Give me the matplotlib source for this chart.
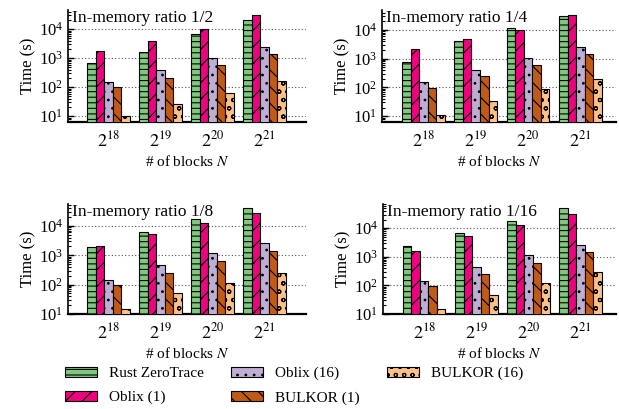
import matplotlib
matplotlib.use("Agg")
import matplotlib.pyplot as plt
import numpy as np
from matplotlib.patches import Patch
from matplotlib.ticker import LogLocator, NullFormatter

plt.rcParams['font.family'] = ['Liberation Serif', 'DejaVu Serif']
plt.rcParams['mathtext.fontset'] = 'stix'
plt.rcParams['hatch.linewidth'] = 0.8

groups = [r'$2^{18}$', r'$2^{19}$', r'$2^{20}$', r'$2^{21}$']
series = ['Rust ZeroTrace', 'Oblix (1)', 'Oblix (16)', 'BULKOR (1)', 'BULKOR (16)']
colors = ['#7fc97f', '#f0027f', '#beaed4', '#bf5b17', '#fdc086']
hatches = ['---', '//', '..', '\\\\', 'oo']

titles = ['In-memory ratio 1/2', 'In-memory ratio 1/4', 'In-memory ratio 1/8', 'In-memory ratio 1/16']

# values[panel][series][group]
ratio_1_2 = [
    [670, 1660, 6700, 20000],
    [1830, 4070, 10000, 31000],
    [157, 400, 1050, 2460],
    [98, 215, 575, 1380],
    [10, 26, 62, 160],
]
ratio_1_4 = [
    [750, 4000, 11500, 31000],
    [2150, 4900, 10000, 33000],
    [150, 410, 1030, 2500],
    [97, 240, 600, 1450],
    [10.5, 35, 85, 200],
]
ratio_1_8 = [
    [1860, 6000, 17000, 40000],
    [2120, 5200, 12500, 27000],
    [148, 460, 1170, 2650],
    [100, 250, 640, 1400],
    [14.4, 52, 111, 257],
]
ratio_1_16 = [
    [2300, 7000, 18500, 49000],
    [1550, 5200, 12700, 31500],
    [138, 425, 1200, 2550],
    [98, 250, 630, 1450],
    [14.5, 46, 120, 300],
]
panels = [ratio_1_2, ratio_1_4, ratio_1_8, ratio_1_16]
ylims = [(6.3, 4.6e4), (6.3, 4.9e4), (10, 5.6e4), (10, 7e4)]
xlims = [(-0.775, 3.80), (-0.79, 3.68), (-0.775, 3.80), (-0.79, 3.68)]

W, H = 619, 409
fig = plt.figure(figsize=(W / 100, H / 100), dpi=100)

# pixel boxes: left, right, top, bottom
boxes = [(68, 306, 10, 122), (382, 616, 10, 122), (68, 306, 204, 314), (383, 616, 204, 314)]

bw = 0.163
x = np.arange(len(groups))
for i, (vals, box) in enumerate(zip(panels, boxes)):
    l, r, t, b = box
    ax = fig.add_axes([l / W, 1 - b / H, (r - l) / W, (b - t) / H])
    ax.set_yscale('log')
    for j in range(len(series)):
        ax.bar(x + (j - 2) * bw, vals[j], bw, bottom=0.1, color=colors[j], edgecolor='black',
               linewidth=0.8, hatch=hatches[j], zorder=3)
    ax.set_ylim(*ylims[i])
    ax.set_xlim(*xlims[i])
    ax.set_xticks(x)
    ax.set_xticklabels(groups, fontsize=13)
    ax.tick_params(axis='x', length=0, pad=6)
    ax.yaxis.set_major_locator(LogLocator(base=10, numticks=10))
    ax.yaxis.set_minor_locator(LogLocator(base=10, subs=np.arange(2, 10), numticks=10))
    ax.yaxis.set_minor_formatter(NullFormatter())
    ax.tick_params(axis='y', which='major', direction='in', length=4, width=1, labelsize=12)
    ax.tick_params(axis='y', which='minor', direction='in', length=2, width=0.8)
    ax.grid(axis='y', which='major', linestyle=(0, (1, 2)), color='#555555', linewidth=0.8, zorder=0)
    ax.spines['top'].set_visible(False)
    ax.spines['right'].set_visible(False)
    ax.spines['bottom'].set_linewidth(1.6)
    ax.spines['left'].set_linewidth(1.2)
    ax.set_ylabel('Time (s)', fontsize=12, labelpad=2)
    ax.set_xlabel(r'# of blocks $N$', fontsize=11, labelpad=3)
    ax.text(0.017, 1.0, titles[i], transform=ax.transAxes, ha='left', va='top', fontsize=12.5, zorder=5)

handles = [Patch(facecolor=colors[j], edgecolor='black', hatch=hatches[j], linewidth=0.8) for j in range(len(series))]
fig.legend(handles, series, loc='upper left', bbox_to_anchor=(65 / W, 1 - 367 / H), ncol=3,
           frameon=False, fontsize=11, handlelength=2.1, handleheight=0.6, handletextpad=0.8,
           columnspacing=1.75, labelspacing=0.7, borderaxespad=0, borderpad=0)

fig.savefig('out.png', dpi=100)
